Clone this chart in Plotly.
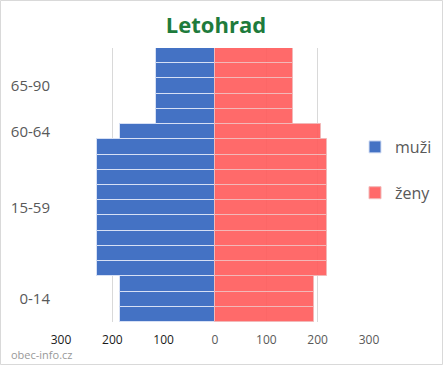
import plotly.graph_objects as go

# Data
groups = ["0-14", "15-59", "60-64", "65-90"]
group_bins = [3, 9, 1, 5]          # number of 5-year bars per group
muzi = [185, 230, 186, 115]        # value per bar in each group
zeny = [193, 219, 207, 152]
x_ticks = [-300, -200, -100, 0, 100, 200, 300]
x_tick_labels = ["300", "200", "100", "0", "100", "200", "300"]

# expand groups into bars
ypos, m_vals, z_vals, centers = [], [], [], []
i = 0
for g, n, m, z in zip(groups, group_bins, muzi, zeny):
    centers.append(i + (n - 1) / 2)
    for _ in range(n):
        ypos.append(i)
        m_vals.append(-m)
        z_vals.append(z)
        i += 1

fig = go.Figure()
fig.add_trace(go.Bar(
    y=ypos, x=m_vals, orientation="h", name="muži", legendgroup="m",
    marker=dict(color="#4472C4", line=dict(color="#D6E0F5", width=1)),
))
fig.add_trace(go.Bar(
    y=ypos, x=z_vals, orientation="h", name="ženy", legendgroup="z",
    marker=dict(color="rgba(255,90,90,0.9)", line=dict(color="#F2B8B8", width=1)),
))

tick_text = []
for v, t in zip(x_ticks, x_tick_labels):
    if v < 0:
        tick_text.append(f"<span style='color:#1a1a1a'>{t}</span>")
    else:
        tick_text.append(t)

W, H = 443, 365
L, R, T, B = 61, 74, 48, 43
pw, ph = W - L - R, H - T - B

fig.update_layout(
    width=W, height=H,
    margin=dict(l=L, r=R, t=T, b=B, autoexpand=False),
    barmode="overlay", bargap=0,
    paper_bgcolor="white", plot_bgcolor="white",
    font=dict(family="Open Sans, DejaVu Sans, sans-serif", color="#595959"),
    title=dict(text="<b>Letohrad</b>", x=(216 - L) / pw, xref="paper", xanchor="center",
               y=1 - 25 / H, yanchor="middle",
               font=dict(size=22, color="#1E7B3C", family="Open Sans, sans-serif")),
    xaxis=dict(range=[-300, 300], tickvals=x_ticks, ticktext=tick_text,
               showgrid=True, gridcolor="#D9D9D9", gridwidth=1, zeroline=False,
               tickfont=dict(size=12, color="#595959"), ticks="", ticklen=0,
               ticklabelstandoff=9, fixedrange=True),
    yaxis=dict(range=[-0.5, len(ypos) - 0.5], tickvals=centers, ticktext=groups,
               showgrid=False, zeroline=False, tickfont=dict(size=15, color="#595959"),
               ticks="", ticklabelstandoff=10),
    legend=dict(x=(355 - L) / pw, y=1 - (170 - T) / ph, xanchor="left", yanchor="middle",
                font=dict(size=16, color="#595959"), tracegroupgap=22, itemwidth=30,
                traceorder="grouped", bgcolor="rgba(0,0,0,0)"),
    showlegend=True,
)

# outer border
fig.add_shape(type="rect", xref="paper", yref="paper",
              x0=(0.5 - L) / pw, x1=(W - 0.5 - L) / pw,
              y0=-(B - 0.5) / ph, y1=1 + (T - 0.5) / ph,
              line=dict(color="#D9D9D9", width=1), layer="below")

fig.add_annotation(text="obec-info.cz", xref="paper", yref="paper",
                   x=(9 - L) / pw, y=-(354 - T - ph) / ph, xanchor="left", yanchor="middle",
                   showarrow=False, font=dict(size=11, color="#999999"))

fig.write_html("out.html", config={"displayModeBar": False},
               post_script="document.body.style.margin='0';document.body.style.padding='0';")
